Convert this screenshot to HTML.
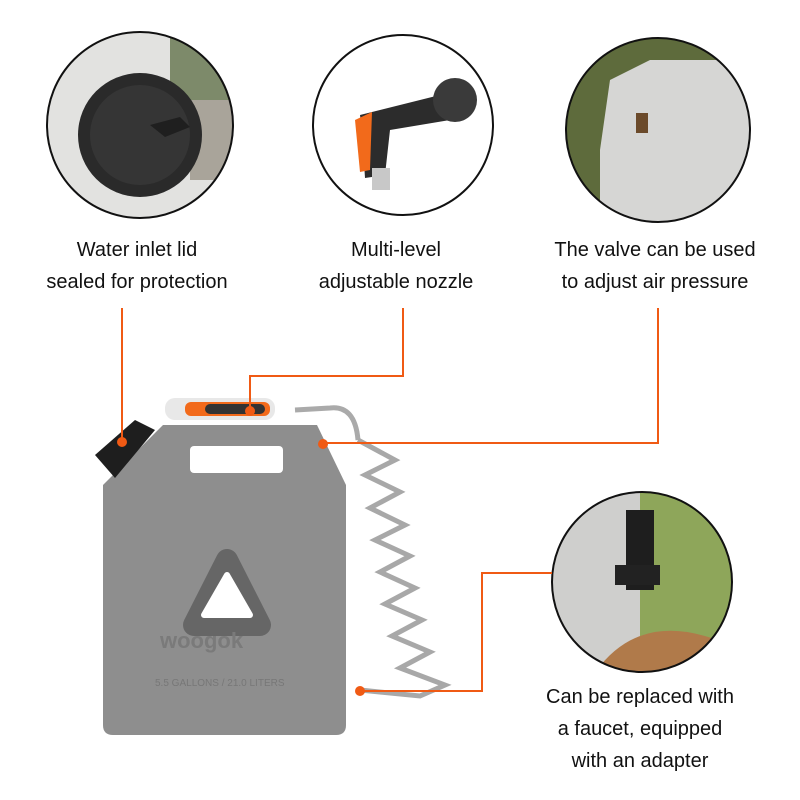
<!DOCTYPE html>
<html><head><style>
body{margin:0;background:#fff;width:800px;height:800px;overflow:hidden;font-family:"Liberation Sans",sans-serif}
.t{position:absolute;font-size:20px;color:#111;text-align:center;line-height:32px;width:260px}
</style></head><body>
<svg width="800" height="800" style="position:absolute;left:0;top:0">
<defs>
<clipPath id="c1"><circle cx="140" cy="125" r="93"/></clipPath>
<clipPath id="c3"><circle cx="658" cy="130" r="92"/></clipPath>
<clipPath id="c4"><circle cx="642" cy="582" r="90"/></clipPath>
</defs>
<!-- circle 1 -->
<g clip-path="url(#c1)">
<rect x="40" y="30" width="200" height="200" fill="#9a9a92"/>
<rect x="40" y="30" width="200" height="200" fill="#e2e2e0"/>
<rect x="170" y="30" width="70" height="110" fill="#7d8a6a"/>
<rect x="190" y="100" width="50" height="80" fill="#a9a49a"/>
<circle cx="140" cy="135" r="62" fill="#2a2a2a"/>
<circle cx="140" cy="135" r="50" fill="#353535"/>
<path d="M150 125 l30 -8 l10 10 l-25 10z" fill="#1f1f1f"/>
</g>
<circle cx="140" cy="125" r="93" fill="none" stroke="#111" stroke-width="2"/>
<!-- circle 2 -->
<circle cx="403" cy="125" r="90" fill="#fff" stroke="#111" stroke-width="2"/>
<path d="M360 115 L440 95 L450 120 L390 130 L385 175 L365 178 L362 130 Z" fill="#2c2c2c"/>
<path d="M355 120 L372 112 L370 170 L360 172 Z" fill="#f26a1b"/>
<circle cx="455" cy="100" r="22" fill="#3a3a3a"/>
<rect x="372" y="168" width="18" height="22" fill="#c8c8c8"/>
<!-- circle 3 -->
<g clip-path="url(#c3)">
<rect x="560" y="30" width="200" height="210" fill="#5e6b3c"/>
<path d="M600 150 L610 80 L650 60 L720 60 L760 100 L760 240 L600 240Z" fill="#d6d6d4"/>
<rect x="636" y="113" width="12" height="20" fill="#6b4a2a"/>
</g>
<circle cx="658" cy="130" r="92" fill="none" stroke="#111" stroke-width="2"/>
<!-- circle 4 -->
<g clip-path="url(#c4)">
<rect x="550" y="490" width="190" height="190" fill="#8ea65a"/>
<rect x="550" y="490" width="90" height="190" fill="#cfcfcd"/>
<path d="M590 680 Q640 600 740 650 L740 680Z" fill="#b07a4a"/>
<rect x="626" y="510" width="28" height="80" fill="#1e1e1e"/>
<rect x="615" y="565" width="45" height="20" fill="#222"/>
</g>
<circle cx="642" cy="582" r="90" fill="none" stroke="#111" stroke-width="2"/>
<!-- hose -->
<path d="M295 410 L330 408 Q355 405 358 440" fill="none" stroke="#aaa" stroke-width="5"/>
<polyline points="358,440 395,460 365,475 400,492 370,508 405,525 375,540 410,556 380,572 415,588 385,604 422,620 392,636 430,652 400,668 445,685 420,696 360,690" fill="none" stroke="#a8a8a8" stroke-width="5"/>
<!-- tank -->
<path d="M163 425 L317 425 L346 485 L346 725 Q346 735 336 735 L113 735 Q103 735 103 725 L103 485 Z" fill="#8e8e8e"/>
<rect x="190" y="446" width="93" height="27" rx="4" fill="#fff"/>
<path d="M227 560 L260 625 L194 625 Z" fill="#666" stroke="#666" stroke-width="22" stroke-linejoin="round"/>
<path d="M227 575 L250 615 L204 615 Z" fill="#fff" stroke="#fff" stroke-width="6" stroke-linejoin="round"/>
<text x="160" y="648" font-size="22" font-weight="bold" fill="#7a7a7a" font-family="Liberation Sans">woogok</text>
<text x="155" y="686" font-size="10" fill="#777">5.5 GALLONS / 21.0 LITERS</text>
<rect x="165" y="398" width="110" height="22" rx="10" fill="#e8e8e8"/>
<rect x="185" y="402" width="85" height="14" rx="6" fill="#f26a1b"/>
<rect x="205" y="404" width="60" height="10" rx="5" fill="#333"/>
<path d="M95 455 L135 420 L155 430 L115 478 Z" fill="#1e1e1e"/>
<!-- orange lines -->
<g stroke="#f05a14" stroke-width="2" fill="none">
<path d="M122 308 V442"/>
<path d="M403 308 V376 H250 V411"/>
<path d="M658 308 V443 H323"/>
<path d="M552 573 H482 V691 H360"/>
</g>
<g fill="#f05a14"><circle cx="122" cy="442" r="5"/><circle cx="250" cy="411" r="5"/><circle cx="323" cy="444" r="5"/><circle cx="360" cy="691" r="5"/></g>
</svg>
<div class="t" style="left:7px;top:234px">Water inlet lid<br>sealed for protection</div>
<div class="t" style="left:266px;top:234px">Multi-level<br>adjustable nozzle</div>
<div class="t" style="left:525px;top:234px">The valve can be used<br>to adjust air pressure</div>
<div class="t" style="left:510px;top:681px">Can be replaced with<br>a faucet, equipped<br>with an adapter</div>
</body></html>
